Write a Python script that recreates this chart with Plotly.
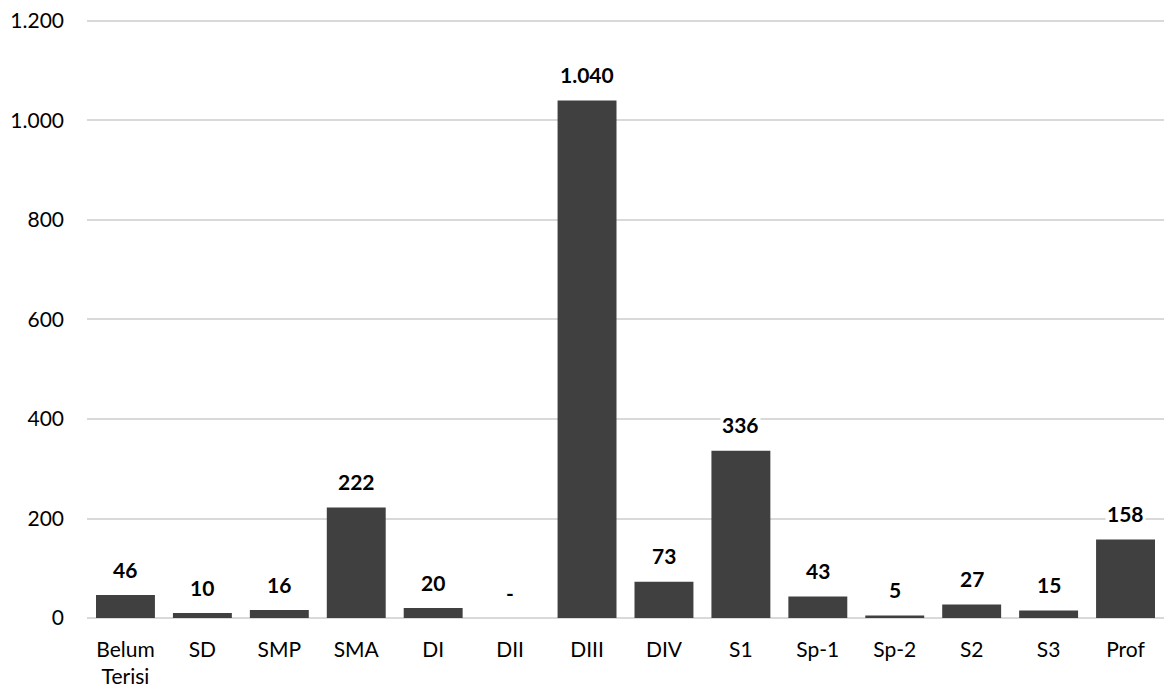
import plotly.graph_objects as go

categories = ["Belum<br>Terisi", "SD", "SMP", "SMA", "DI", "DII", "DIII", "DIV",
              "S1", "Sp-1", "Sp-2", "S2", "S3", "Prof"]
values = [46, 10, 16, 222, 20, 0, 1040, 73, 336, 43, 5, 27, 15, 158]
y_ticks = [0, 200, 400, 600, 800, 1000, 1200]


def fmt(v):
    return "-" if v == 0 else f"{v:,}".replace(",", ".")


FONT = "Lato, Carlito, Calibri, sans-serif"
BAR = "#404040"

fig = go.Figure(go.Bar(x=categories, y=values, marker=dict(color=BAR, line=dict(width=0))))

for c, v in zip(categories, values):
    fig.add_annotation(x=c, y=v, text="<b>" + fmt(v) + "</b>", showarrow=False,
                       yanchor="middle", yshift=26, bgcolor="white", borderpad=1,
                       font=dict(family=FONT, size=21, color="#000000"))

fig.update_layout(
    width=1164, height=690,
    margin=dict(l=87, r=0, t=17, b=72),
    paper_bgcolor="white", plot_bgcolor="white",
    bargap=0.234,
    separators=",.",
    font=dict(family=FONT, size=21, color="#000000"),
    showlegend=False,
)
fig.update_xaxes(showline=False, ticks="", ticklabelstandoff=17,
                 tickfont=dict(family=FONT, size=21, color="#000000"))
fig.update_yaxes(range=[0, 1208], tickvals=y_ticks, ticktext=[fmt(t) if t else "0" for t in y_ticks],
                 showgrid=True, gridcolor="#d9d9d9", gridwidth=1.5,
                 zeroline=True, zerolinecolor="#d9d9d9", zerolinewidth=1.5,
                 showline=False, ticks="", ticklabelstandoff=22,
                 tickfont=dict(family=FONT, size=21, color="#000000"))

fig.write_html("out.html", config={"displayModeBar": False},
               post_script="document.body.style.margin='0';")
